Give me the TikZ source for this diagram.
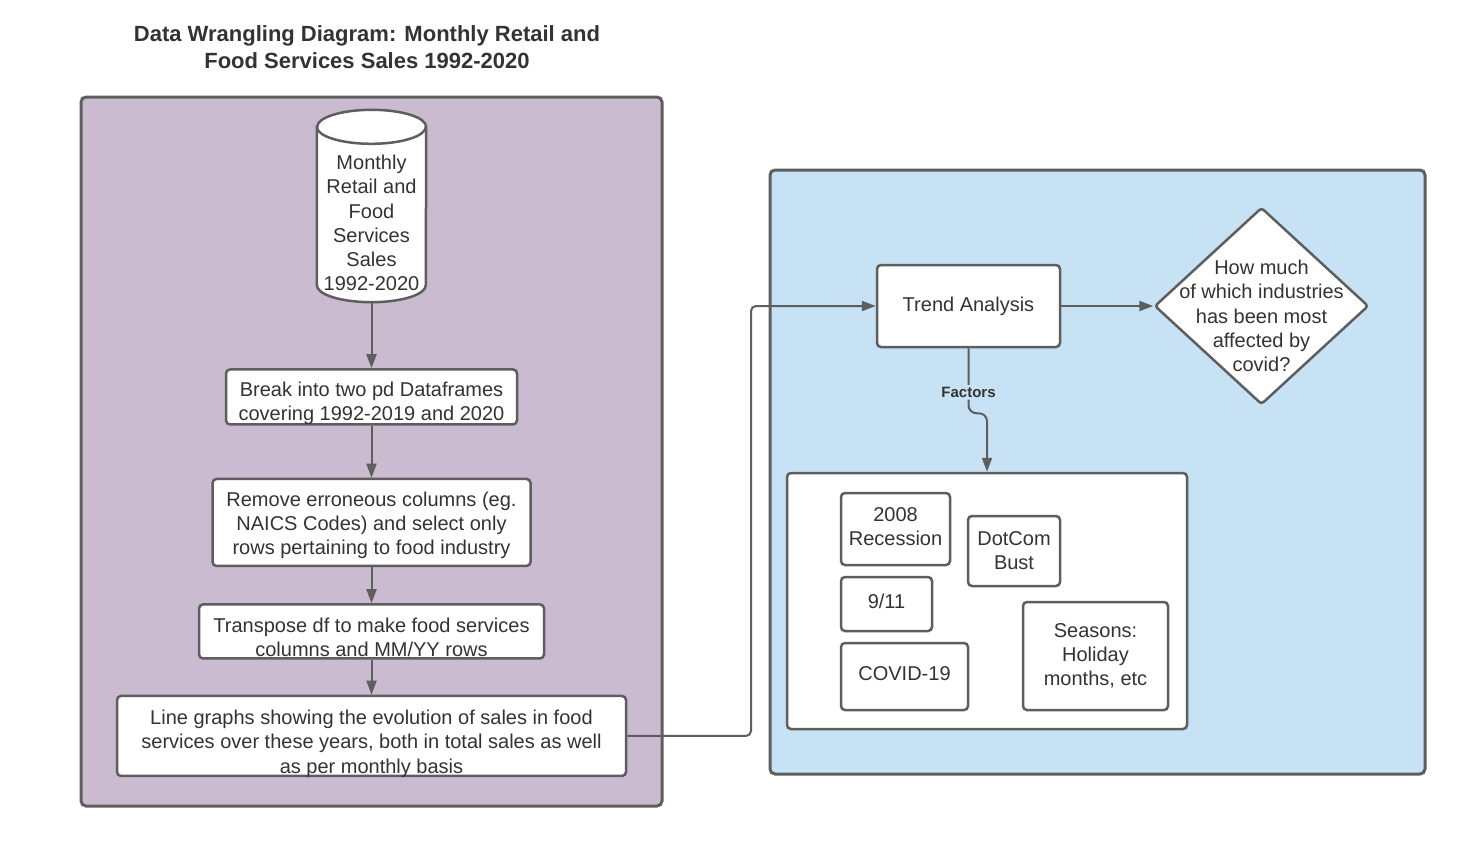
\documentclass[tikz,border=0pt]{standalone}
\usepackage{fontspec}
\setmainfont{Liberation Sans}
\usetikzlibrary{arrows.meta, positioning, shapes.geometric}
\definecolor{panelpurple}{HTML}{CBBBD0}
\definecolor{panelblue}{HTML}{C7E2F5}
\definecolor{edgegray}{HTML}{5E5E5E}
\definecolor{inkgray}{HTML}{333333}
\newcommand{\droptext}[2]{\raisebox{-#1}[\height][\depth]{\begin{tabular}{@{}c@{}}#2\end{tabular}}}
\newcommand{\sourcesales}{Monthly\\Retail and\\Food\\Services\\Sales\\1992-2020}
\newcommand{\splitframes}{Break into two pd Dataframes\\covering 1992-2019 and 2020}
\newcommand{\dropcolumns}{Remove erroneous columns (eg.\\NAICS Codes) and select only\\rows pertaining to food industry}
\newcommand{\transposedf}{Transpose df to make food services\\columns and MM/YY rows}
\newcommand{\linegraphs}{Line graphs showing the evolution of sales in food\\services over these years, both in total sales as well\\as per monthly basis}
\newcommand{\covidquestion}{How much\\of which industries\\has been most\\affected by\\covid?}

\begin{document}
\begin{tikzpicture}[
        x=1pt, y=-1pt,
        >={Triangle[length=14pt, width=10pt]},
        every node/.style={text=inkgray, font=\fontsize{20}{24.2}\selectfont},
        box/.style={draw=edgegray, line width=2.5pt, fill=white, rounded corners=4pt, align=center, inner sep=0pt},
        panel/.style={draw=edgegray, line width=3pt, rounded corners=5pt},
        flow/.style={->, draw=edgegray, line width=2pt}]
        \useasboundingbox[fill=white] (0,0) rectangle (1480,860);
        % Panels
        \node[font=\bfseries\fontsize{22}{27}\selectfont, align=center] (title) at (367,47) {Data Wrangling Diagram: Monthly Retail and\\Food Services Sales 1992-2020};
        \draw[panel, fill=panelpurple] (81,97) rectangle (662,806);
        \draw[panel, fill=panelblue] (770,170) rectangle (1425,774);
        
        % States
        \node[minimum width=109pt, minimum height=192pt, inner sep=0pt] (data_source) at (371.5,206) {};
        \draw[draw=edgegray, line width=2.5pt, fill=white] ([yshift=-17pt]data_source.north west) -- ([yshift=17pt]data_source.south west)
            arc[start angle=180, end angle=360, x radius=54.5pt, y radius=17pt]
            -- ([yshift=-17pt]data_source.north east)
            arc[start angle=0, end angle=180, x radius=54.5pt, y radius=17pt] -- cycle;
        \draw[draw=edgegray, line width=2.5pt] ([yshift=-17pt]data_source.north west)
            arc[start angle=180, end angle=360, x radius=54.5pt, y radius=17pt];
        \node[align=center] (data_source_text) at ([yshift=-17pt]data_source.center) {\sourcesales};
        
        \node[box, minimum width=291pt, minimum height=55pt, below=66pt of data_source] (split_frames) {\droptext{7pt}{\splitframes}};
        \node[box, minimum width=318pt, minimum height=87pt, below=52pt of split_frames] (drop_columns) {\droptext{3pt}{\dropcolumns}};
        \node[box, minimum width=345pt, minimum height=54pt, below=36pt of drop_columns] (transpose_df) {\droptext{8pt}{\transposedf}};
        \node[box, minimum width=509pt, minimum height=80pt, below=35pt of transpose_df] (line_graphs) {\droptext{8pt}{\linegraphs}};
        
        \node[box, minimum width=183pt, minimum height=82pt] (trend_analysis) at (968.5,306) {Trend Analysis};
        \node[diamond, draw=edgegray, line width=2.5pt, fill=white, minimum width=214pt, minimum height=197pt, inner sep=0pt, rounded corners=3pt, right=92pt of trend_analysis] (covid_question) {};
        \node[align=center] (covid_question_text) at ([yshift=-10pt]covid_question.center) {\covidquestion};
        
        \node[box, minimum width=400pt, minimum height=256pt] (factor_panel) at (987,601) {};
        \node[box, minimum width=109pt, minimum height=72pt] (recession) at (895.5,529) {\droptext{0pt}{2008\\Recession}};
        \node[box, minimum width=92pt, minimum height=70pt] (dotcom) at (1014,551) {DotCom\\Bust};
        \node[box, minimum width=91pt, minimum height=54pt] (nine_eleven) at (886.5,604) {\droptext{0pt}{9/11}};
        \node[box, minimum width=127pt, minimum height=67pt] (covid) at (904.5,676.5) {\droptext{-1pt}{COVID-19}};
        \node[box, minimum width=145pt, minimum height=108pt] (seasons) at (1095.5,656) {Seasons:\\Holiday\\months, etc};
        
        % Edges
        \draw[flow] (data_source) -- (split_frames);
        \draw[flow] (split_frames) -- (drop_columns);
        \draw[flow] (drop_columns) -- (transpose_df);
        \draw[flow] (transpose_df) -- (line_graphs);
        
        \coordinate (turn) at (751,306);
        \draw[flow, rounded corners=5pt] (line_graphs.east) -| (turn) -- (trend_analysis.west);
        \draw[flow] (trend_analysis) -- (covid_question);
        \draw[flow, rounded corners=8pt] (trend_analysis.south) -- node[pos=0.68, fill=panelblue, inner sep=2pt, font=\bfseries\fontsize{15}{18}\selectfont]{Factors} ++(0,65) -| (factor_panel.north);
      \end{tikzpicture}
\end{document}
